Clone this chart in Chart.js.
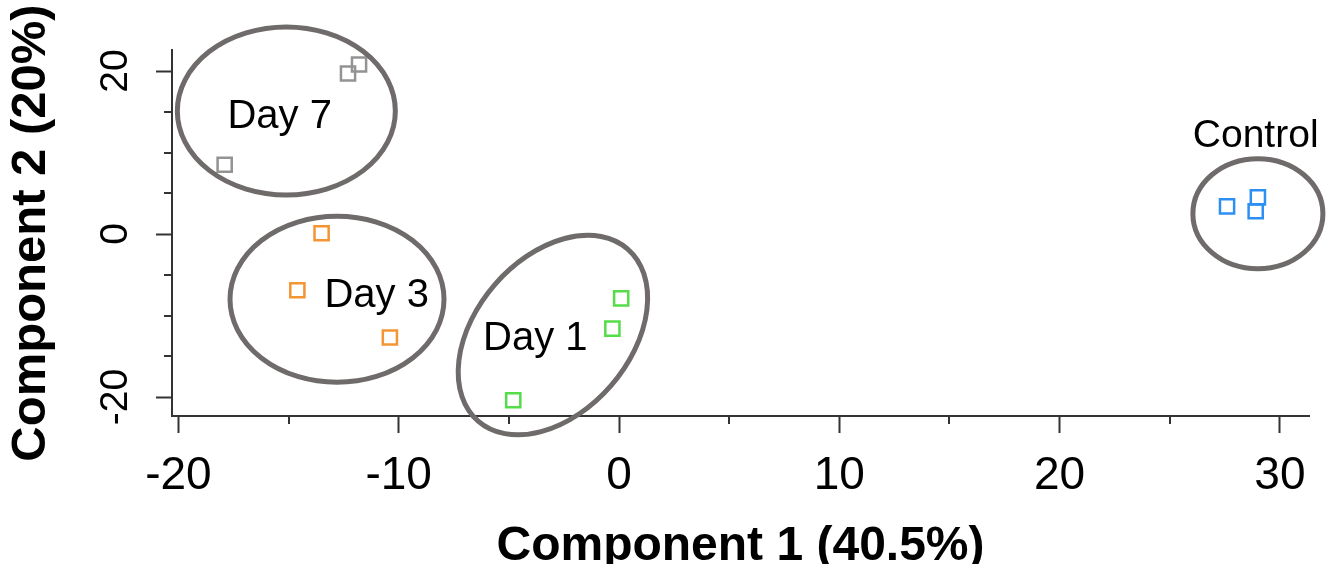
<!DOCTYPE html>
<html>
<head>
<meta charset="utf-8">
<script src="https://cdn.jsdelivr.net/npm/chart.js@4.4.1/dist/chart.umd.min.js"></script>
<style>
  html, body { margin: 0; padding: 0; background: #fff; overflow: hidden; }
</style>
</head>
<body>
<canvas id="pca" width="1336" height="564"></canvas>
<script>
// axis ticks
const xTicks = [-20, -10, 0, 10, 20, 30];
const xMinorTicks = [-15, -5, 5, 15, 25];
const yTicks = [-20, 0, 20];
const yMinorTicks = [-15, -10, -5, 5, 10, 15];

// groups and scores (component 1, component 2)
const groups = ['Day 7', 'Day 3', 'Day 1', 'Control'];
const day7X = [-12.3, -11.8, -17.9];
const day7Y = [19.7, 20.8, 8.5];
const day3X = [-13.5, -14.6, -10.4];
const day3Y = [0.1, -6.9, -12.7];
const day1X = [0.1, -0.3, -4.8];
const day1Y = [-7.9, -11.6, -20.4];
const controlX = [27.6, 29.0, 28.9];
const controlY = [3.4, 4.5, 2.8];

// group rings and label anchors in data coordinates
const ringCenterX = [-15.1, -12.8, -3.0, 29.0];
const ringCenterY = [15.1, -8.0, -12.4, 2.5];
const labelX = [-15.4, -11.0, -3.8, 28.9];
const labelY = [13.0, -9.0, -14.2, 10.7];

// look
const FONT = '"Liberation Sans", Arial, Helvetica, sans-serif';
const groupColors = ['#939393', '#f39532', '#55dd49', '#2d8ff3'];
const ringSize = [
    { a: 109, b: 84, tilt: 0 },
    { a: 107, b: 83, tilt: 0 },
    { a: 114, b: 77, tilt: -49 },
    { a: 65, b: 55, tilt: 0 },
];
const labelFontSize = [40, 40, 40, 39];
const AXIS = '#333';

function toPoints(xs, ys) {
    return xs.map((x, i) => ({ x: x, y: ys[i] }));
}

const seriesX = [day7X, day3X, day1X, controlX];
const seriesY = [day7Y, day3Y, day1Y, controlY];

const datasets = groups.map((g, i) => ({
    label: g,
    data: toPoints(seriesX[i], seriesY[i]),
    pointStyle: 'rect',
    pointRadius: 10,
    pointHoverRadius: 10,
    borderWidth: 2.5,
    borderColor: groupColors[i],
    backgroundColor: 'rgba(0,0,0,0)',
}));

// minor ticks, rings and group names
const extras = {
    id: 'extras',
    afterDraw(chart) {
        const ctx = chart.ctx;
        const xs = chart.scales.x;
        const ys = chart.scales.y;
        const area = chart.chartArea;

        ctx.save();
        ctx.strokeStyle = AXIS;
        ctx.lineWidth = 2;
        ctx.beginPath();
        xMinorTicks.forEach(v => {
            const px = Math.round(xs.getPixelForValue(v));
            ctx.moveTo(px, area.bottom);
            ctx.lineTo(px, area.bottom + 8);
        });
        yMinorTicks.forEach(v => {
            const py = Math.round(ys.getPixelForValue(v));
            ctx.moveTo(area.left, py);
            ctx.lineTo(area.left - 8, py);
        });
        ctx.stroke();

        ctx.strokeStyle = '#6f6b6a';
        ctx.lineWidth = 5;
        groups.forEach((g, i) => {
            const cx = xs.getPixelForValue(ringCenterX[i]);
            const cy = ys.getPixelForValue(ringCenterY[i]);
            const r = ringSize[i];
            ctx.beginPath();
            ctx.ellipse(cx, cy, r.a, r.b, r.tilt * Math.PI / 180, 0, Math.PI * 2);
            ctx.stroke();
        });

        ctx.fillStyle = '#000';
        ctx.textAlign = 'center';
        ctx.textBaseline = 'alphabetic';
        groups.forEach((g, i) => {
            ctx.font = labelFontSize[i] + 'px ' + FONT;
            ctx.fillText(g, xs.getPixelForValue(labelX[i]), ys.getPixelForValue(labelY[i]));
        });
        ctx.restore();
    }
};

Chart.defaults.font.family = FONT;
Chart.defaults.color = '#000';

new Chart(document.getElementById('pca').getContext('2d'), {
    type: 'scatter',
    data: { datasets: datasets },
    options: {
        responsive: false,
        animation: false,
        events: [],
        layout: { padding: { top: 50, right: 27, left: 0, bottom: 0 } },
        plugins: {
            legend: { display: false },
            tooltip: { enabled: false },
        },
        scales: {
            x: {
                type: 'linear',
                position: 'bottom',
                min: -20.29,
                max: 31.32,
                afterBuildTicks: s => { s.ticks = xTicks.map(v => ({ value: v })); },
                afterFit: s => { s.height = 148; },
                ticks: {
                    autoSkip: false,
                    maxRotation: 0,
                    padding: 16,
                    color: '#000',
                    font: { size: 46 },
                },
                grid: {
                    drawOnChartArea: false,
                    tickLength: 17,
                    tickWidth: 2,
                    tickColor: AXIS,
                },
                border: { display: true, color: AXIS, width: 2 },
                title: {
                    display: true,
                    text: 'Component 1 (40.5%)',
                    color: '#000',
                    font: { size: 48, weight: 'bold' },
                    padding: { top: 0, bottom: -12 },
                },
            },
            y: {
                type: 'linear',
                min: -22.33,
                max: 22.58,
                afterBuildTicks: s => { s.ticks = yTicks.map(v => ({ value: v })); },
                afterFit: s => { s.width = 172; },
                ticks: {
                    autoSkip: false,
                    minRotation: 90,
                    maxRotation: 90,
                    crossAlign: 'center',
                    padding: 12,
                    color: '#000',
                    font: { size: 39 },
                },
                grid: {
                    drawOnChartArea: false,
                    tickLength: 16,
                    tickWidth: 2,
                    tickColor: AXIS,
                },
                border: { display: true, color: AXIS, width: 2 },
                title: {
                    display: true,
                    text: 'Component 2 (20%)',
                    color: '#000',
                    font: { size: 49, weight: 'bold' },
                    padding: { top: 2, bottom: 0 },
                },
            },
        },
    },
    plugins: [extras],
});
</script>
</body>
</html>
